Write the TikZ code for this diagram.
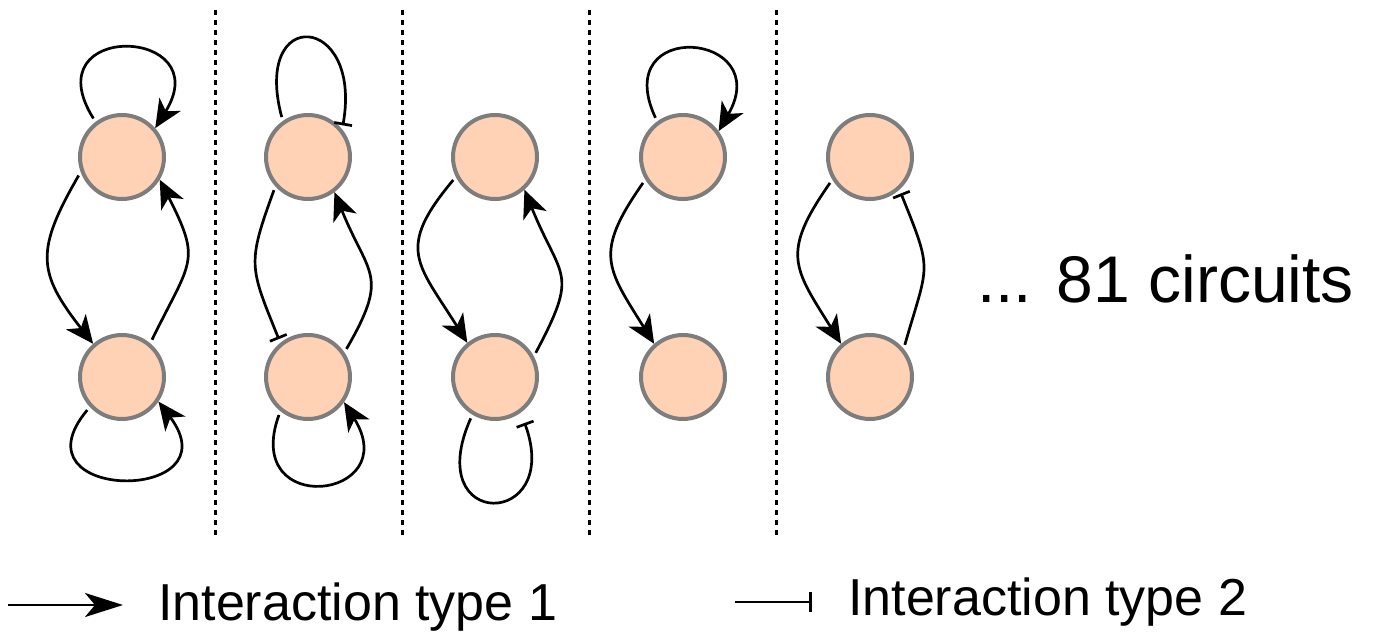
\documentclass[tikz,border=0pt]{standalone}
\usepackage{fontspec}
\setmainfont{Liberation Sans}
\usetikzlibrary{arrows.meta}
\definecolor{peach}{RGB}{255,209,181}
\definecolor{ringgrey}{RGB}{125,125,125}
\tikzset{
  gene/.style={circle, draw=ringgrey, fill=peach, line width=4pt, minimum size=84pt, inner sep=0pt},
  act/.style={line width=2.7pt, -{Stealth[length=28pt,width=25pt,inset=8pt]}, shorten <=4pt},
  inh/.style={line width=2.7pt, -{Bar[width=18pt,line width=2.7pt]}, shorten <=4pt, shorten >=4pt},
  divider/.style={line width=3pt, dash pattern=on 5pt off 5pt},
  bigtext/.style={font=\fontsize{66}{72}\selectfont, anchor=base west, inner sep=0pt},
  legtext/.style={font=\fontsize{52}{60}\selectfont, anchor=base west, inner sep=0pt}
}
\begin{document}
\begin{tikzpicture}[x=1pt,y=-1pt]
\useasboundingbox (0,0) rectangle (1376,636);
% dividers
\foreach \xx/\nm in {215/d1,402/d2,589/d3,776/d4}{
  \coordinate (\nm t) at (\xx,10);
  \coordinate (\nm b) at (\xx,537);
  \draw[divider] (\nm t) -- (\nm b);
}
% nodes
\node[gene] (a1) at (122,157) {};
\node[gene] (b1) at (122,377) {};
\node[gene] (a2) at (308,157) {};
\node[gene] (b2) at (308,377) {};
\node[gene] (a3) at (495,157) {};
\node[gene] (b3) at (495,377) {};
\node[gene] (a4) at (683,157) {};
\node[gene] (b4) at (683,377) {};
\node[gene] (a5) at (870,157) {};
\node[gene] (b5) at (870,377) {};
% column 1
\draw[act] (a1.127) .. controls +(-122:120) and +(-58:120) .. (a1.41);
\draw[act] (a1.200) to[out=240,in=128,looseness=1.35] (b1.131);
\draw[act] (b1.50) to[out=64,in=297,looseness=1.45] (a1.329);
\draw[act] (b1.223) .. controls +(-230:125) and +(-307:128) .. (b1.326);
% column 2
\draw[inh] (a2.125) .. controls +(-105:120) and +(-80:118) .. (a2.39);
\draw[inh] (a2.222) to[out=250,in=112,looseness=1.35] (b2.129);
\draw[act] (b2.34) to[out=60,in=292,looseness=1.45] (a2.307);
\draw[act] (b2.231) .. controls +(-250:115) and +(-302:115) .. (b2.325);
% column 3
\draw[act] (a3.207) to[out=230,in=122,looseness=1.45] (b3.129);
\draw[act] (b3.28) to[out=62,in=292,looseness=1.5] (a3.312);
\draw[inh, shorten >=11pt] (b3.239) .. controls +(-246:128) and +(-290:124) .. (b3.306);
% column 4
\draw[act] (a4.126) .. controls +(-115:115) and +(-60:115) .. (a4.36);
\draw[act] (a4.211) to[out=235,in=122,looseness=1.4] (b4.131);
% column 5
\draw[act] (a5.211) to[out=235,in=122,looseness=1.4] (b5.131);
\draw[inh] (b5.40) to[out=74,in=292,looseness=1.45] (a5.312);
% text
\node[bigtext] (more) at (977,302) {... 81 circuits};
% legend
\coordinate (l1s) at (8,605);
\coordinate (l1e) at (123,605);
\draw[line width=2.7pt, -{Stealth[length=38pt,width=24pt,inset=10pt]}] (l1s) -- (l1e);
\node[legtext] (leg1) at (158,620) {Interaction type 1};
\coordinate (l2s) at (735,602);
\coordinate (l2e) at (812,602);
\draw[line width=2.7pt, -{Bar[width=20pt,line width=2.7pt]}] (l2s) -- (l2e);
\node[legtext] (leg2) at (848,615) {Interaction type 2};
\end{tikzpicture}
\end{document}
